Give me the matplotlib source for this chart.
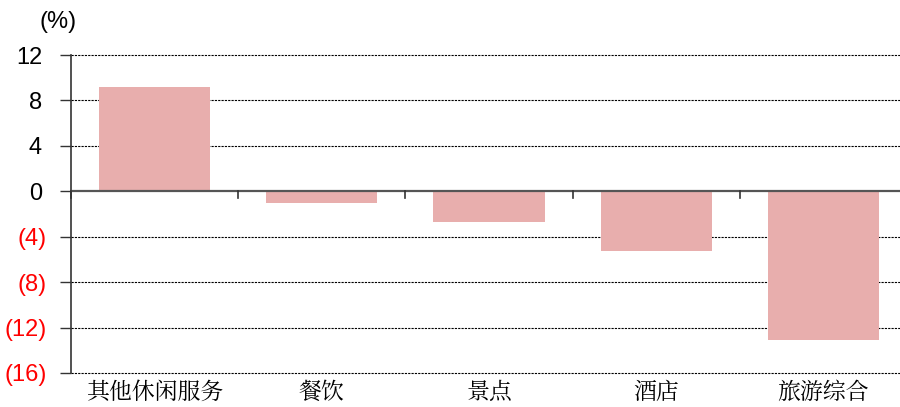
import matplotlib
matplotlib.use("Agg")
import matplotlib.pyplot as plt
from matplotlib import transforms

categories = ["其他休闲服务", "餐饮", "景点", "酒店", "旅游综合"]
values = [9.2, -1.0, -2.7, -5.3, -13.1]
yticks = [12, 8, 4, 0, -4, -8, -12, -16]
ytick_labels = ["12", "8", "4", "0", "(4)", "(8)", "(12)", "(16)"]

numfont = "Liberation Sans"

fig = plt.figure(figsize=(9, 4.07), dpi=100)
ax = fig.add_axes([71/900, 1-373/407, 836/900, (373-55)/407])
x = list(range(len(categories)))
ax.bar(x, values, width=0.665, color="#E8AEAD", zorder=2)
ax.set_xlim(-0.5, len(categories)-0.5)
ax.set_ylim(-16, 12)
ax.set_yticks(yticks)
ax.set_yticklabels([])
ax.tick_params(axis="y", length=8, width=1, direction="out", color="#333333")
# tick labels with accounting-style alignment (positive numbers leave room for ")")
trans = transforms.blended_transform_factory(fig.transFigure, ax.transData)
for v, lab in zip(yticks, ytick_labels):
    neg = lab.startswith("(")
    xr = (47 if neg else 42) / 900
    ax.text(xr, v, lab, transform=trans, ha="right", va="center_baseline", fontsize=17,
            family=numfont, color="red" if neg else "black")
ax.set_xticks([])
for s in ["top", "right", "bottom"]:
    ax.spines[s].set_visible(False)
ax.spines["left"].set_color("#333333")
ax.spines["left"].set_linewidth(1.2)
for v in yticks:
    if v != 0:
        ax.axhline(v, color="black", lw=0.8, ls=(0, (2, 1)), zorder=1, clip_on=False)
ax.axhline(0, color="#555555", lw=1.6, zorder=3)
# category boundary ticks on the zero line
for b in range(0, len(categories)+1):
    ax.plot([b-0.5, b-0.5], [0, -0.55], color="#333333", lw=1.2, zorder=3, clip_on=False)
for i, c in enumerate(categories):
    ax.text(i, 2/407, c, transform=transforms.blended_transform_factory(ax.transData, fig.transFigure),
            ha="center", va="bottom", fontsize=16.5,
            family=["Noto Serif CJK SC", "Noto Sans CJK SC", "DejaVu Sans"])
fig.text(58/900, 1-22/407, "(%)", ha="center", va="center", fontsize=17, family=numfont)
fig.savefig("out.png", dpi=100)
